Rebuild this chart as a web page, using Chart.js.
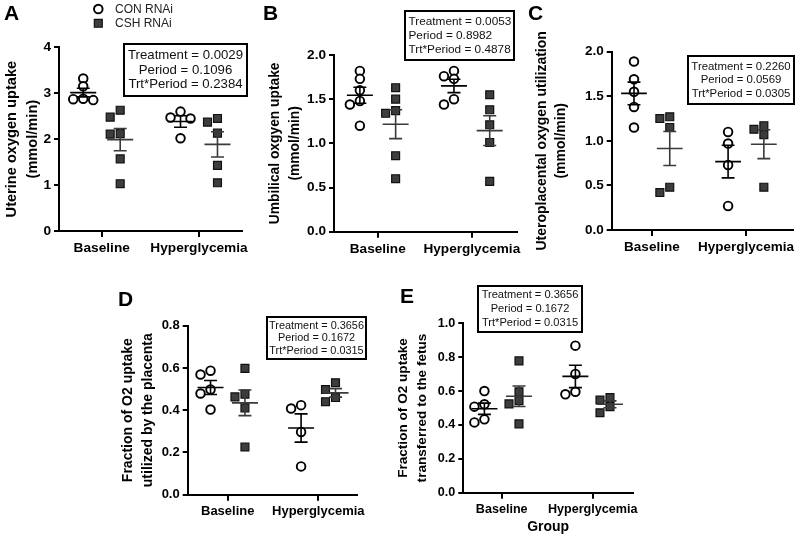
<!DOCTYPE html>
<html><head><meta charset="utf-8">
<script src="https://cdn.jsdelivr.net/npm/chart.js@4.4.1/dist/chart.umd.min.js"></script>
<style>
html,body{margin:0;padding:0;background:#fff;}
#wrap{position:relative;width:800px;height:537px;overflow:hidden;background:#fff;}
.panel{position:absolute;}
.panel canvas{display:block;}
</style></head><body><div id="wrap"></div>
<script>
const FONT = "'Liberation Sans', Arial, Helvetica, sans-serif";
const groups = ['Baseline', 'Hyperglycemia'];
const seriesNames = ['CON RNAi', 'CSH RNAi'];

// A: Uterine oxygen uptake (mmol/min)
const uterineConBaseline = [3.32, 3.15, 2.88, 2.87, 2.85];
const uterineConHyper = [2.60, 2.47, 2.45, 2.02];
const uterineCshBaseline = [2.63, 2.48, 2.12, 2.11, 1.57, 1.03];
const uterineCshHyper = [2.45, 2.37, 2.13, 1.43, 1.05];
const uterineStats = ['Treatment = 0.0029', 'Period = 0.1096', 'Trt*Period = 0.2384'];
const uterineYTicks = [0, 1, 2, 3, 4];

// B: Umbilical oxygen uptake (mmol/min)
const umbilicalConBaseline = [1.82, 1.73, 1.60, 1.48, 1.44, 1.20];
const umbilicalConHyper = [1.82, 1.76, 1.73, 1.50, 1.44];
const umbilicalCshBaseline = [1.63, 1.50, 1.37, 1.34, 0.86, 0.60];
const umbilicalCshHyper = [1.55, 1.38, 1.21, 1.01, 0.57];
const umbilicalStats = ['Treatment = 0.0053', 'Period = 0.8982', 'Trt*Period = 0.4878'];
const umbilicalYTicks = [0, 0.5, 1.0, 1.5, 2.0];

// C: Uteroplacental oxygen utilization (mmol/min)
const uteroplacentalConBaseline = [1.89, 1.69, 1.55, 1.38, 1.15];
const uteroplacentalConHyper = [1.10, 0.97, 0.73, 0.27];
const uteroplacentalCshBaseline = [1.27, 1.25, 1.15, 0.48, 0.42];
const uteroplacentalCshHyper = [1.17, 1.13, 1.07, 0.48];
const uteroplacentalStats = ['Treatment = 0.2260', 'Period = 0.0569', 'Trt*Period = 0.0305'];
const uteroplacentalYTicks = [0, 0.5, 1.0, 1.5, 2.0];

// D: Fraction of O2 uptake utilized by the placenta
const placentaConBaseline = [0.587, 0.569, 0.498, 0.479, 0.403];
const placentaConHyper = [0.424, 0.408, 0.297, 0.134];
const placentaCshBaseline = [0.598, 0.476, 0.463, 0.411, 0.226];
const placentaCshHyper = [0.530, 0.498, 0.460, 0.440];
const placentaStats = ['Treatment = 0.3656', 'Period = 0.1672', 'Trt*Period = 0.0315'];
const placentaYTicks = [0, 0.2, 0.4, 0.6, 0.8];

// E: Fraction of O2 uptake transferred to the fetus
const fetusConBaseline = [0.600, 0.522, 0.508, 0.433, 0.415];
const fetusConHyper = [0.868, 0.701, 0.596, 0.581];
const fetusCshBaseline = [0.778, 0.596, 0.543, 0.524, 0.406];
const fetusCshHyper = [0.561, 0.547, 0.508, 0.472];
const fetusStats = ['Treatment = 0.3656', 'Period = 0.1672', 'Trt*Period = 0.0315'];
const fetusYTicks = [0, 0.2, 0.4, 0.6, 0.8, 1.0];

const panels = [
  { id: 'A', box: [0, 0, 265, 265], area: [59, 47.3, 242, 231], x: [0.561, 2.442], y: [0, 4], yTicks: uterineYTicks, dec: 0,
    data: [[uterineConBaseline, uterineConHyper], [uterineCshBaseline, uterineCshHyper]],
    title: ['Uterine oxygen uptake', '(mmol/min)'], titleSize: 14.6, titlePad: 2, tickSize: 13.7,
    stats: uterineStats, statsBox: [123, 43, 125, 54], statsFont: 13.2, statsLH: 14.7, statsAlign: 'center',
    letterPos: [4, 20], legend: true },
  { id: 'B', box: [261, 0, 269, 265], area: [334, 55, 517, 231.7], x: [0.535, 2.48], y: [0, 2], yTicks: umbilicalYTicks, dec: 1,
    data: [[umbilicalConBaseline, umbilicalConHyper], [umbilicalCshBaseline, umbilicalCshHyper]],
    title: ['Umbilical oxgyen uptake', '(mmol/min)'], titleSize: 13.8, titlePad: 4.8, tickSize: 13.6,
    stats: umbilicalStats, statsBox: [404, 10, 111, 51], statsFont: 11.8, statsLH: 14.2, statsAlign: 'left',
    letterPos: [2, 20] },
  { id: 'C', box: [526, 0, 274, 265], area: [611.7, 51.7, 795, 230], x: [0.573, 2.502], y: [0, 2], yTicks: uteroplacentalYTicks, dec: 1,
    data: [[uteroplacentalConBaseline, uteroplacentalConHyper], [uteroplacentalCshBaseline, uteroplacentalCshHyper]],
    title: ['Uteroplacental oxygen utilization', '(mmol/min)'], titleSize: 14, titlePad: 5.8, tickSize: 13.5,
    stats: uteroplacentalStats, statsBox: [687, 55, 108, 50], statsFont: 11.4, statsLH: 13.5, statsAlign: 'center',
    letterPos: [2, 20] },
  { id: 'D', box: [100, 265, 300, 272], area: [187.7, 325.7, 356.7, 494.7], x: [0.558, 2.424], y: [0, 0.8], yTicks: placentaYTicks, dec: 1,
    data: [[placentaConBaseline, placentaConHyper], [placentaCshBaseline, placentaCshHyper]],
    title: ['Fraction of O2 uptake', 'utilized by the placenta'], titleSize: 14, titlePad: 18, tickSize: 13,
    stats: placentaStats, statsBox: [266, 316, 101, 44], statsFont: 10.9, statsLH: 12.5, statsAlign: 'center',
    letterPos: [18, 41] },
  { id: 'E', box: [385, 265, 275, 272], area: [463.3, 323.3, 633, 492.7], x: [0.578, 2.443], y: [0, 1], yTicks: fetusYTicks, dec: 1,
    data: [[fetusConBaseline, fetusConHyper], [fetusCshBaseline, fetusCshHyper]],
    title: ['Fraction of O2 uptake', 'transferred to the fetus'], titleSize: 13.6, titlePad: 8.5, tickSize: 12.6,
    xTitle: 'Group',
    stats: fetusStats, statsBox: [477, 285, 106, 48], statsFont: 11.1, statsLH: 14, statsAlign: 'center',
    letterPos: [15, 38] }
];

const seriesStyle = [
  { pointStyle: 'circle', radius: 4.3, bg: '#ffffff', border: '#000000', bw: 1.9, line: '#000000' },
  { pointStyle: 'rect', radius: 5.6, bg: '#3d3d3d', border: '#111111', bw: 1.2, line: '#3a3a3a' }
];
const seriesOffset = [-0.19, 0.19];

function meanSem(a) {
  const n = a.length;
  const m = a.reduce((s, v) => s + v, 0) / n;
  const sd = Math.sqrt(a.reduce((s, v) => s + (v - m) * (v - m), 0) / (n - 1));
  return { m, sem: sd / Math.sqrt(n) };
}

// simple beeswarm: spread points that would overlap vertically
function swarm(values, pxPerY, pxPerX) {
  const minDy = 7.5, step = 10;
  const order = values.map((v, i) => i).sort((a, b) => values[b] - values[a]);
  const placed = [];
  const off = new Array(values.length).fill(0);
  for (const i of order) {
    const y = values[i] * pxPerY;
    const cands = [0];
    for (let k = 1; k < 8; k++) cands.push(-k * step, k * step);
    for (const c of cands) {
      const ok = placed.every(p => Math.abs(p.y - y) >= minDy || Math.abs(p.x - c) >= step * 0.99);
      if (ok) { off[i] = c / pxPerX; placed.push({ x: c, y }); break; }
    }
  }
  return off;
}

function summaryData(center, vals, halfMean, halfCap) {
  const { m, sem } = meanSem(vals);
  return [
    { x: center - halfMean, y: m }, { x: center + halfMean, y: m }, { x: center, y: null },
    { x: center, y: m - sem }, { x: center, y: m + sem }, { x: center, y: null },
    { x: center - halfCap, y: m + sem }, { x: center + halfCap, y: m + sem }, { x: center, y: null },
    { x: center - halfCap, y: m - sem }, { x: center + halfCap, y: m - sem }, { x: center, y: null }
  ];
}

const annoPlugin = {
  id: 'panelAnno',
  afterDraw(chart, args, o) {
    const ctx = chart.ctx;
    ctx.save();
    // panel letter
    ctx.fillStyle = '#000';
    ctx.font = `bold 21px ${FONT}`;
    ctx.textAlign = 'left';
    ctx.textBaseline = 'alphabetic';
    ctx.fillText(o.letter, o.letterPos[0], o.letterPos[1]);
    // stats box
    const [bx, by, bw, bh] = o.statsBox;
    ctx.fillStyle = '#fff';
    ctx.fillRect(bx, by, bw, bh);
    ctx.strokeStyle = '#000';
    ctx.lineWidth = 2;
    ctx.strokeRect(bx + 1, by + 1, bw - 2, bh - 2);
    ctx.fillStyle = '#111';
    ctx.font = `${o.statsFont}px ${FONT}`;
    ctx.textBaseline = 'middle';
    ctx.textAlign = o.statsAlign;
    const cx = o.statsAlign === 'left' ? bx + 4.5 : bx + bw / 2;
    const cy = by + bh / 2;
    o.stats.forEach((s, i) => ctx.fillText(s, cx, cy + (i - 1) * o.statsLH));
    // legend
    if (o.legend) {
      ctx.font = `12px ${FONT}`;
      ctx.textAlign = 'left';
      ctx.fillStyle = '#222';
      const items = [[98.3, 9], [98.3, 23.3]];
      items.forEach(([mx, my], s) => {
        const st = seriesStyle[s];
        ctx.lineWidth = st.bw;
        ctx.strokeStyle = st.border;
        ctx.fillStyle = st.bg;
        ctx.beginPath();
        if (st.pointStyle === 'circle') ctx.arc(mx, my, st.radius, 0, Math.PI * 2);
        else { const h = st.radius * Math.SQRT1_2; ctx.rect(mx - h, my - h, 2 * h, 2 * h); }
        ctx.fill(); ctx.stroke();
        ctx.fillStyle = '#222';
        ctx.fillText(seriesNames[s], 115, my + 0.5);
      });
    }
    ctx.restore();
  }
};

const wrap = document.getElementById('wrap');
panels.forEach(p => {
  const [L, T, W, H] = p.box;
  const [l, t, r, b] = p.area;
  const div = document.createElement('div');
  div.className = 'panel';
  div.style.left = L + 'px'; div.style.top = T + 'px';
  div.style.width = W + 'px'; div.style.height = H + 'px';
  const canvas = document.createElement('canvas');
  canvas.width = W; canvas.height = H;
  canvas.style.width = W + 'px'; canvas.style.height = H + 'px';
  div.appendChild(canvas);
  wrap.appendChild(div);

  const pxX = (r - l) / (p.x[1] - p.x[0]);
  const pxY = (b - t) / (p.y[1] - p.y[0]);
  const datasets = [];
  p.data.forEach((seriesGroups, s) => {
    const st = seriesStyle[s];
    const pts = [];
    const summ = [];
    seriesGroups.forEach((vals, g) => {
      const center = g + 1 + seriesOffset[s];
      const jit = swarm(vals, pxY, pxX);
      vals.forEach((v, i) => pts.push({ x: center + jit[i], y: v }));
      summ.push(...summaryData(center, vals, 13 / pxX, 6.5 / pxX));
    });
    datasets.push({
      type: 'scatter', label: seriesNames[s], data: pts, order: 1,
      pointStyle: st.pointStyle, pointRadius: st.radius, pointHoverRadius: st.radius,
      backgroundColor: st.bg, borderColor: st.border, borderWidth: st.bw, clip: false
    });
    datasets.push({
      type: 'line', label: seriesNames[s] + ' mean ± SEM', data: summ, order: 0,
      borderColor: st.line, borderWidth: 1.6, pointRadius: 0, pointHoverRadius: 0,
      tension: 0, fill: false, spanGaps: false, clip: false
    });
  });

  const tickFont = { family: FONT, size: p.tickSize, weight: 'bold' };
  new Chart(canvas, {
    data: { datasets },
    plugins: [annoPlugin],
    options: {
      responsive: false, animation: false, events: [],
      layout: { padding: { left: 0, top: t - T, right: (L + W) - r, bottom: 0 } },
      plugins: {
        legend: { display: false }, tooltip: { enabled: false },
        panelAnno: {
          letter: p.id, letterPos: p.letterPos,
          stats: p.stats, statsBox: [p.statsBox[0] - L, p.statsBox[1] - T, p.statsBox[2], p.statsBox[3]],
          statsFont: p.statsFont, statsLH: p.statsLH, statsAlign: p.statsAlign, legend: !!p.legend
        }
      },
      scales: {
        x: {
          type: 'linear', position: 'bottom', min: p.x[0], max: p.x[1],
          afterBuildTicks: sc => { sc.ticks = groups.map((g, i) => ({ value: i + 1 })); },
          afterFit: sc => { sc.height = (T + H) - b; },
          ticks: { callback: (v, i) => groups[i], font: tickFont, color: '#000', padding: 3, autoSkip: false, maxRotation: 0 },
          grid: { display: true, drawOnChartArea: false, drawTicks: true, tickLength: 6, color: '#000', lineWidth: 2 },
          border: { display: true, color: '#000', width: 2 },
          title: { display: !!p.xTitle, text: p.xTitle || '', color: '#000', font: { family: FONT, size: 14, weight: 'bold' }, padding: { top: 0, bottom: 1.5 } }
        },
        y: {
          type: 'linear', position: 'left', min: p.y[0], max: p.y[1],
          afterBuildTicks: sc => { sc.ticks = p.yTicks.map(v => ({ value: v })); },
          afterFit: sc => { sc.width = l - L; },
          ticks: { callback: v => Number(v).toFixed(p.dec), font: tickFont, color: '#000', padding: 3 },
          grid: { display: true, drawOnChartArea: false, drawTicks: true, tickLength: 5, color: '#000', lineWidth: 2 },
          border: { display: true, color: '#000', width: 2 },
          title: { display: true, text: p.title, color: '#000', font: { family: FONT, size: p.titleSize, weight: 'bold', lineHeight: 1.42 }, padding: { top: p.titlePad, bottom: 0 } }
        }
      }
    }
  });
});
</script>
</body></html>
